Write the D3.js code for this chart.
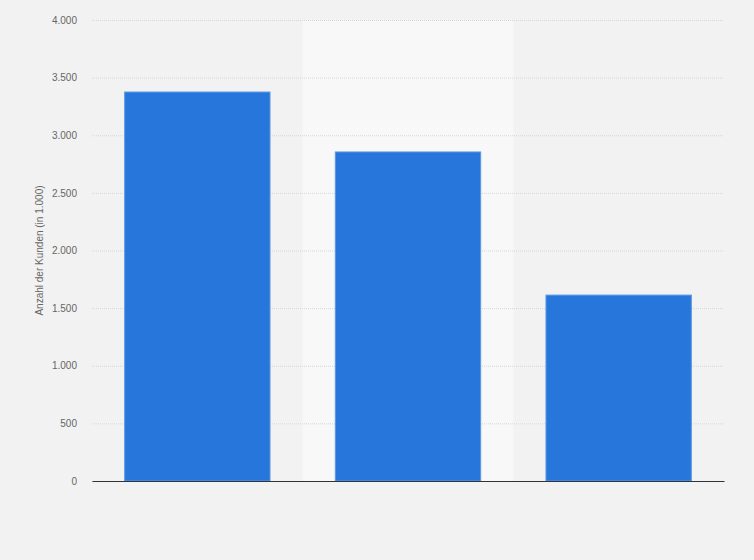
<!DOCTYPE html>
<html>
<head>
<meta charset="utf-8">
<script src="https://cdn.jsdelivr.net/npm/d3@7"></script>
<style>
  body { margin: 0; background: #f2f2f2; }
  text { font-family: "Liberation Sans", Arial, sans-serif; }
</style>
</head>
<body>
<div id="chart"></div>
<script>
// Data (no category labels shown)
const categories = ["1", "2", "3"];
const values = [3375, 2855, 1613];
const yTicks = [0, 500, 1000, 1500, 2000, 2500, 3000, 3500, 4000];
const yTitle = "Anzahl der Kunden (in 1.000)";

// Set the dimensions and margins of the graph
const margin = {top: 20, right: 30, bottom: 79, left: 92},
    width = 754 - margin.left - margin.right,
    height = 560 - margin.top - margin.bottom;

const svg = d3.select("#chart")
  .append("svg")
    .attr("width", 754)
    .attr("height", 560)
    .style("display", "block");

svg.append("rect")
  .attr("width", 754).attr("height", 560)
  .attr("fill", "#f2f2f2");

const g = svg.append("g")
  .attr("transform", `translate(${margin.left},${margin.top})`);

// X scale (bands)
const x = d3.scaleBand()
  .range([0, width])
  .domain(categories);

const xBar = d3.scaleBand()
  .range([0, width])
  .domain(categories)
  .paddingInner(0.31)
  .paddingOuter(0.155);

// Y scale
const y = d3.scaleLinear()
  .domain([0, 4000])
  .range([height, 0]);

// Alternating band background
g.selectAll(".band")
  .data(categories.filter((d, i) => i % 2 === 1))
  .join("rect")
    .attr("class", "band")
    .attr("x", d => x(d))
    .attr("y", 0)
    .attr("width", x.bandwidth())
    .attr("height", height)
    .attr("fill", "#f8f8f8");

// Y axis with gridlines
const yAxis = g.append("g")
  .call(d3.axisLeft(y)
    .tickValues(yTicks)
    .tickSize(-width)
    .tickPadding(15)
    .tickFormat(d => d3.format(",")(d).replace(/,/g, ".")));
yAxis.select(".domain").remove();
yAxis.selectAll(".tick line")
  .attr("stroke", "#d6d6d6")
  .attr("stroke-dasharray", "1,1");
yAxis.selectAll(".tick text")
  .attr("fill", "#666")
  .style("font-size", "10px");

// Bars
g.selectAll(".bar")
  .data(values)
  .join("rect")
    .attr("class", "bar")
    .attr("x", (d, i) => xBar(categories[i]))
    .attr("y", d => y(d))
    .attr("width", xBar.bandwidth())
    .attr("height", d => height - y(d))
    .attr("fill", "#2776db")
    .attr("stroke", "#5c98e6")
    .attr("stroke-width", 1);

// X axis line (no labels)
g.append("g")
  .attr("transform", `translate(0,${height})`)
  .call(d3.axisBottom(x).tickSize(0).tickFormat(""))
  .select(".domain")
    .attr("stroke", "#333")
    .attr("stroke-width", 1.2);

// Y axis title
svg.append("text")
  .attr("transform", `translate(43,${margin.top + height / 2}) rotate(-90)`)
  .attr("text-anchor", "middle")
  .attr("fill", "#666")
  .style("font-size", "10px")
  .text(yTitle);
</script>
</body>
</html>
